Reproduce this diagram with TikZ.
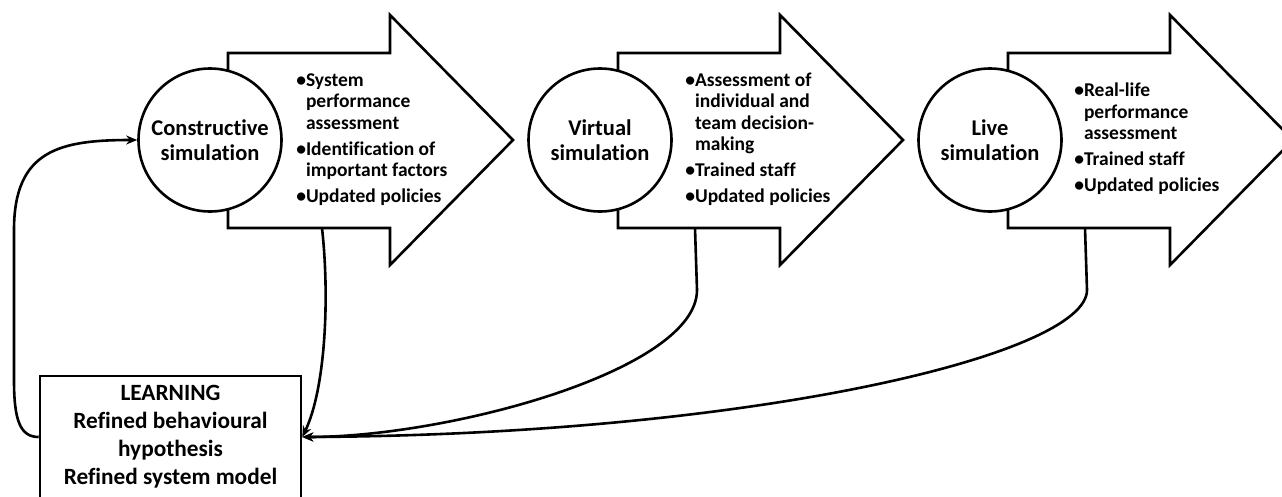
\documentclass[tikz,border=0pt]{standalone}
\usepackage{fontspec}
\setmainfont{Carlito}[Ligatures=NoCommon]
\usetikzlibrary{arrows.meta}

\begin{document}
\begin{tikzpicture}[x=1pt, y=-1pt, line width=2.6pt, >={Stealth[length=11pt,width=9pt]},
    sim/.style={draw, circle, fill=white, minimum size=143pt, inner sep=0pt, align=center, font=\fontsize{22.5}{24.5}\selectfont\bfseries},
    points/.style={anchor=west, inner sep=0pt, font=\fontsize{19.5}{21.5}\selectfont\bfseries},
    learnbox/.style={draw, rectangle, fill=white, minimum width=261pt, minimum height=122pt, align=center, font=\fontsize{23.3}{28}\selectfont\bfseries},
    bigarrow/.style={draw, fill=white, line join=miter}]
    \useasboundingbox (0,0) rectangle (1282,496);

    % Block arrows
    \foreach \x in {0,390,780}
        \draw[bigarrow] (228+\x,53) -- (390+\x,53) -- (390+\x,15) -- (513+\x,140) -- (390+\x,265) -- (390+\x,228) -- (228+\x,228) -- cycle;

    % Nodes
    \node (constructive) [sim] at (210,140) {Constructive\\simulation};
    \node (virtual) [sim] at (600,140) {Virtual\\simulation};
    \node (live) [sim] at (990,140) {Live\\simulation};

    \node (constructive-text) [points] at (295,140) {\begin{tabular}{@{}l@{}l@{}}
        \textbullet&System\\&performance\\&assessment\\[4.5pt]
        \textbullet&Identification of\\&important factors\\[4.5pt]
        \textbullet&Updated policies\end{tabular}};
    \node (virtual-text) [points] at (684,140) {\begin{tabular}{@{}l@{}l@{}}
        \textbullet&Assessment of\\&individual and\\&team decision-\\&making\\[4.5pt]
        \textbullet&Trained staff\\[4.5pt]
        \textbullet&Updated policies\end{tabular}};
    \node (live-text) [points] at (1073,140) {\begin{tabular}{@{}l@{}l@{}}
        \textbullet&Real-life\\&performance\\&assessment\\[4.5pt]
        \textbullet&Trained staff\\[4.5pt]
        \textbullet&Updated policies\end{tabular}};

    \node (learning) [learnbox] at (170.5,437) {LEARNING\\Refined behavioural\\hypothesis\\Refined system model};

    \coordinate (constructive-foot) at (322,228);
    \coordinate (virtual-foot) at (695,228);
    \coordinate (live-foot) at (1085,228);

    % Arrows
    \draw[->] (constructive-foot) .. controls (330,300) and (325,390) .. (learning.east);
    \draw[->] (virtual-foot) -- (697,290) .. controls (697,370) and (450,437) .. (learning.east);
    \draw[->] (live-foot) -- (1087,290) .. controls (1087,355) and (750,435) .. (learning.east);
    \draw[->] (learning.west) .. controls (20,437) and (14,420) .. (14,380) -- (14,230) .. controls (14,150) and (60,140) .. (constructive.west);
\end{tikzpicture}
\end{document}
